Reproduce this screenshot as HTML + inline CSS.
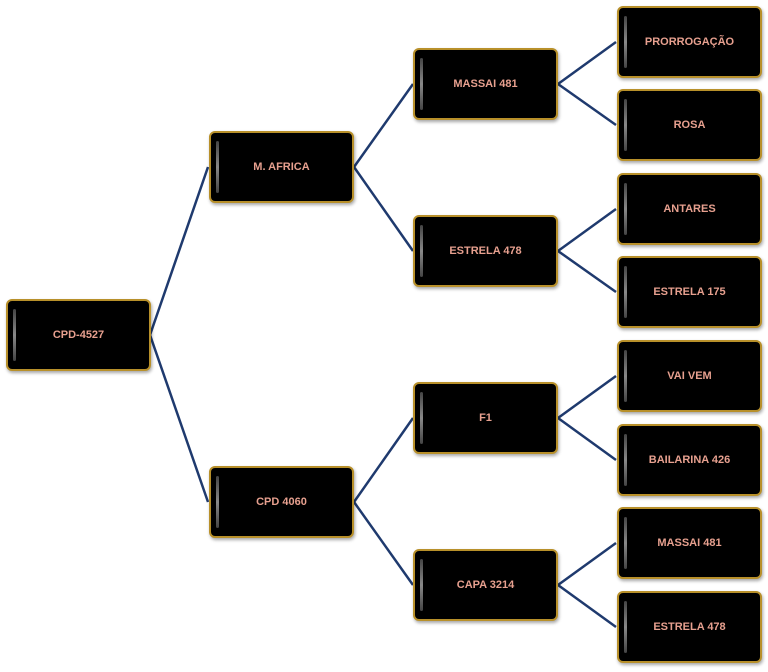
<!DOCTYPE html>
<html><head><style>
body{margin:0;width:768px;height:672px;background:#fff;position:relative;overflow:hidden;font-family:"Liberation Sans",sans-serif}
.n{position:absolute;width:142px;height:70px;background:#000;border:2px solid #b8902a;border-radius:6px;box-sizing:border-box;color:#e7a08f;font-weight:bold;font-size:11px;display:flex;align-items:center;justify-content:center;box-shadow:1px 2px 3px rgba(0,0,0,.35)}
.n::before{content:"";position:absolute;left:5px;top:8px;width:3px;height:52px;background:linear-gradient(#444,#888,#444);border-radius:2px}
svg{position:absolute;left:0;top:0}
</style></head><body>
<svg width="768" height="672"><g stroke="#1f3a6e" stroke-width="2.5" fill="none">
<path d="M150 335L208 167M150 335L208 502"/>
<path d="M354 167L413 84M354 167L413 251M354 502L413 418M354 502L413 585"/>
<path d="M558 84L616 42M558 84L616 125M558 251L616 209M558 251L616 292M558 418L616 376M558 418L616 460M558 585L616 543M558 585L616 627"/>
</g></svg>
<div class="n" style="left:6px;top:299px;width:145px;height:72px">CPD-4527</div>
<div class="n" style="left:209px;top:131px;width:145px;height:72px">M. AFRICA</div>
<div class="n" style="left:209px;top:466px;width:145px;height:72px">CPD 4060</div>
<div class="n" style="left:413px;top:48px;width:145px;height:72px">MASSAI 481</div>
<div class="n" style="left:413px;top:215px;width:145px;height:72px">ESTRELA 478</div>
<div class="n" style="left:413px;top:382px;width:145px;height:72px">F1</div>
<div class="n" style="left:413px;top:549px;width:145px;height:72px">CAPA 3214</div>
<div class="n" style="left:617px;top:6px;width:145px;height:72px">PRORROGAÇÃO</div>
<div class="n" style="left:617px;top:89px;width:145px;height:72px">ROSA</div>
<div class="n" style="left:617px;top:173px;width:145px;height:72px">ANTARES</div>
<div class="n" style="left:617px;top:256px;width:145px;height:72px">ESTRELA 175</div>
<div class="n" style="left:617px;top:340px;width:145px;height:72px">VAI VEM</div>
<div class="n" style="left:617px;top:424px;width:145px;height:72px">BAILARINA 426</div>
<div class="n" style="left:617px;top:507px;width:145px;height:72px">MASSAI 481</div>
<div class="n" style="left:617px;top:591px;width:145px;height:72px">ESTRELA 478</div>
</body></html>
